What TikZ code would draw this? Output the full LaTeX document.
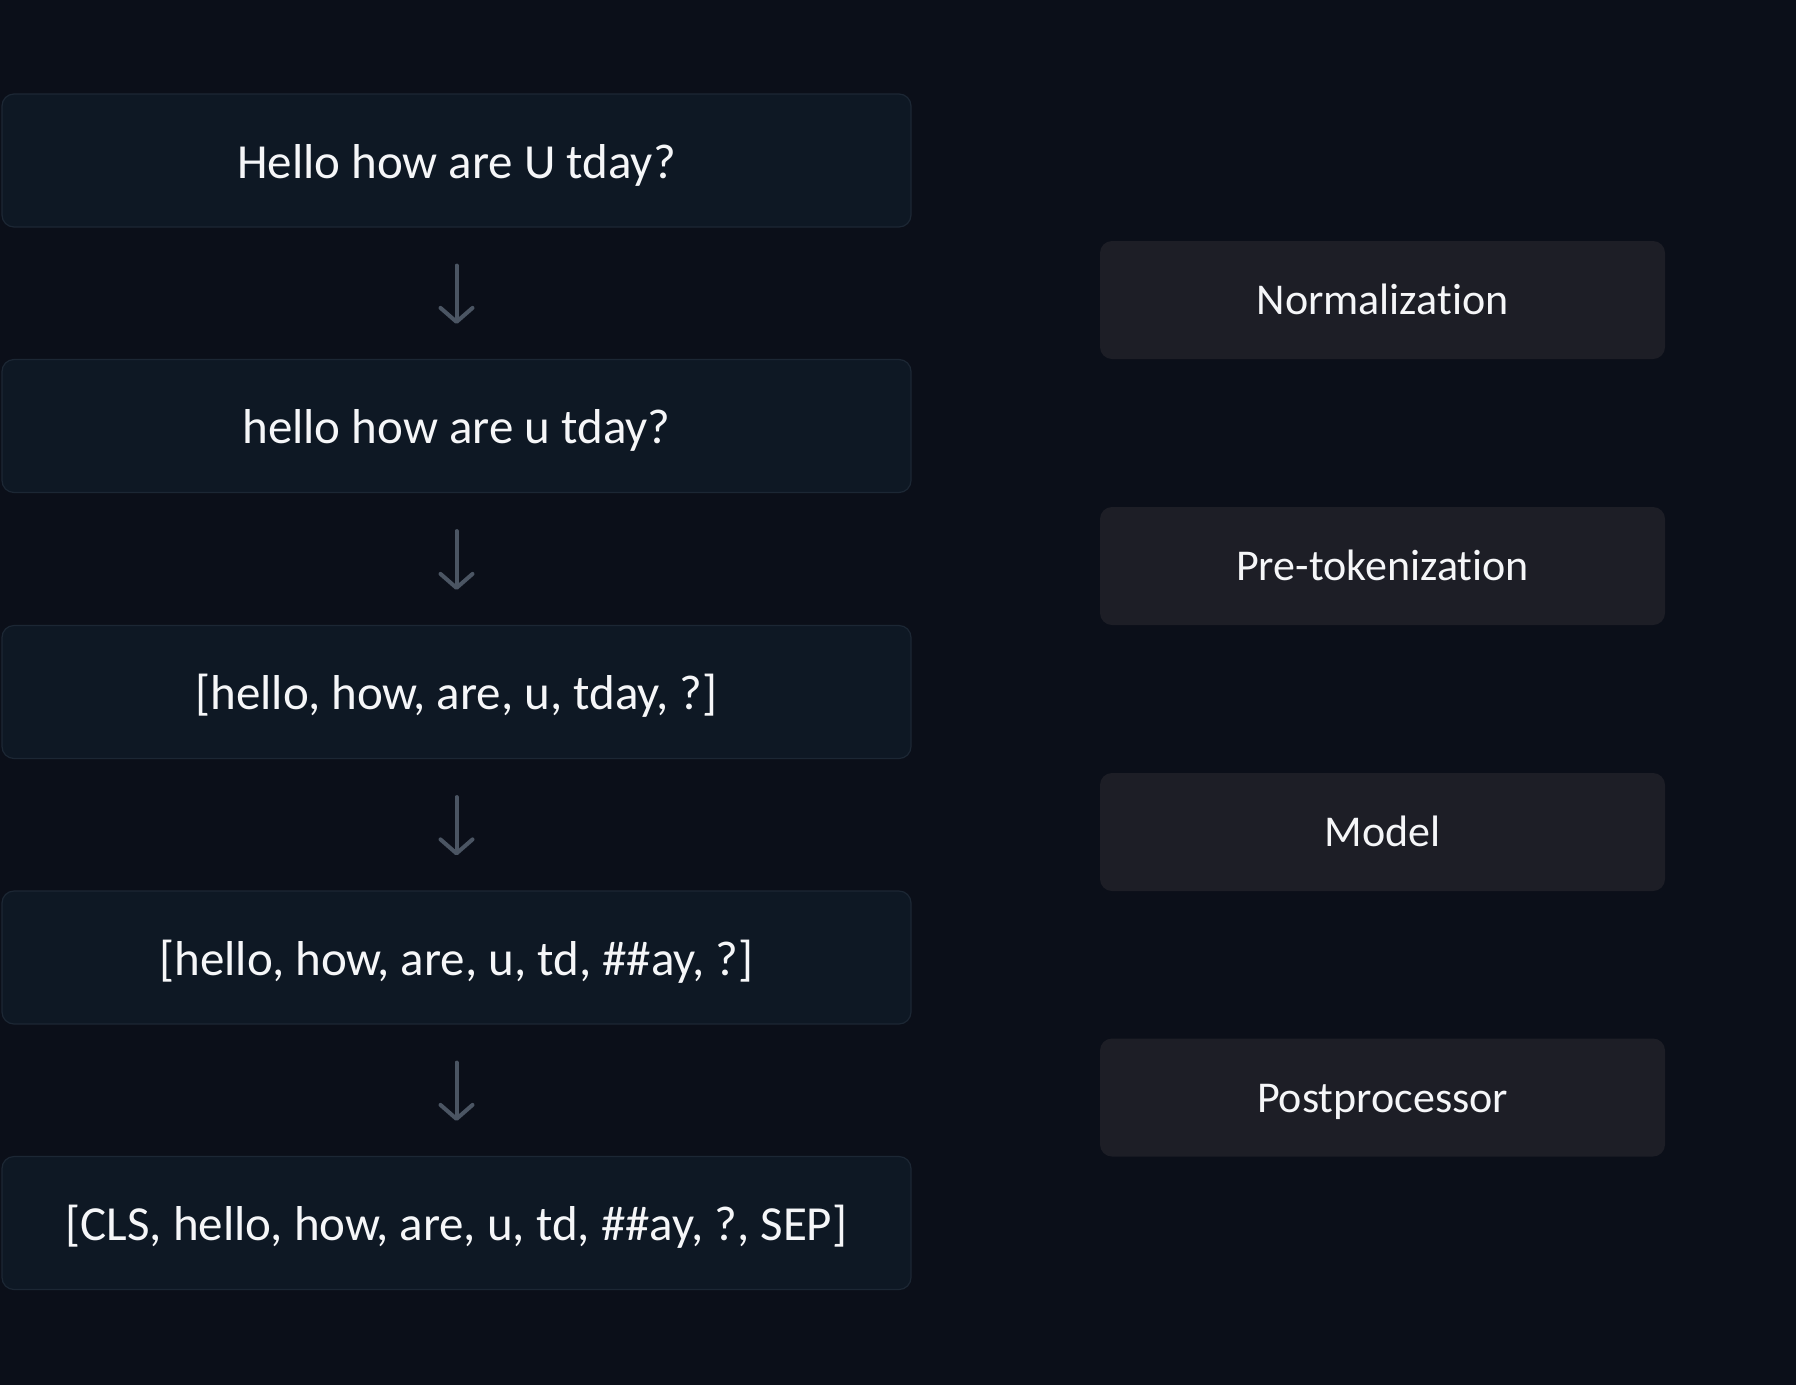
\documentclass[tikz,border=0pt]{standalone}
\usepackage{fontspec}
\setmainfont{Carlito}[Ligatures={NoCommon}]
\usetikzlibrary{arrows.meta}
\definecolor{pagebg}{HTML}{0B0F19}
\definecolor{stagefill}{HTML}{0E1824}
\definecolor{stageline}{HTML}{1C2734}
\definecolor{stepfill}{HTML}{1D1E26}
\definecolor{flowgray}{HTML}{4B5563}
\definecolor{textwhite}{HTML}{F5F6F8}
\tikzset{
	stage/.style={draw=stageline, line width=1.2pt, fill=stagefill, rounded corners=12pt,
		minimum width=909pt, minimum height=133pt, text=textwhite,
		text height=40pt, text depth=5pt, font=\fontsize{49}{58}\selectfont},
	stepbox/.style={fill=stepfill, rounded corners=12pt,
		minimum width=565pt, minimum height=118pt, text=textwhite,
		text height=35pt, text depth=6pt, font=\fontsize{44}{53}\selectfont},
	flow/.style={draw=flowgray, line width=4pt, line cap=round,
		-{Straight Barb[length=14pt, width=32pt, line cap=round, line join=round]}}
}

\begin{document}
\begin{tikzpicture}[x=1pt, y=-1pt]
			%%%%% BACKGROUND %%%%%
			\fill[pagebg] (0, 0) rectangle (1796, 1385);
			\useasboundingbox (0, 0) rectangle (1796, 1385);
			
			%%%%% LEFT COLUMN %%%%%
			\node[stage] (raw) at (456.5, 160.5) {Hello how are U tday?};
			\node[stage] (norm) at (456.5, 426) {hello how are u tday?};
			\node[stage] (pretok) at (456.5, 692) {[hello, how, are, u, tday, ?]};
			\node[stage] (tok) at (456.5, 957.5) {[hello, how, are, u, td, \#\#ay, ?]};
			\node[stage] (post) at (456.5, 1223) {[CLS, hello, how, are, u, td, \#\#ay, ?, SEP]};
			
			\draw[flow] ([yshift=-38pt]raw.south) -- ([yshift=35pt]norm.north);
			\draw[flow] ([yshift=-38pt]norm.south) -- ([yshift=35pt]pretok.north);
			\draw[flow] ([yshift=-38pt]pretok.south) -- ([yshift=35pt]tok.north);
			\draw[flow] ([yshift=-38pt]tok.south) -- ([yshift=35pt]post.north);
			
			%%%%% RIGHT COLUMN %%%%%
			\node[stepbox] (normstep) at (1382.5, 300) {Normalization};
			\node[stepbox] (pretokstep) at (1382.5, 566) {Pre-tokenization};
			\node[stepbox] (modelstep) at (1382.5, 832) {Model};
			\node[stepbox] (poststep) at (1382.5, 1097.5) {Postprocessor};
\end{tikzpicture}
\end{document}
